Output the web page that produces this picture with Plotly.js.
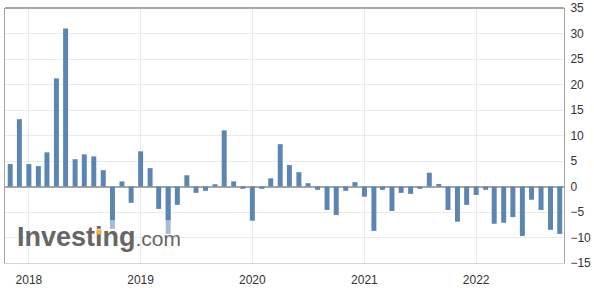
<!DOCTYPE html>
<html>
<head>
<meta charset="utf-8">
<script src="https://cdn.plot.ly/plotly-3.0.1.min.js"></script>
<style>
html,body{margin:0;padding:0;background:#fff;}
#chart{width:594px;height:298px;}
</style>
</head>
<body>
<div id="chart"></div>
<script>
// Monthly dates (Nov 2017 .. Oct 2022)
const months = [
  "2017-11-01","2017-12-01",
  "2018-01-01","2018-02-01","2018-03-01","2018-04-01","2018-05-01","2018-06-01",
  "2018-07-01","2018-08-01","2018-09-01","2018-10-01","2018-11-01","2018-12-01",
  "2019-01-01","2019-02-01","2019-03-01","2019-04-01","2019-05-01","2019-06-01",
  "2019-07-01","2019-08-01","2019-09-01","2019-10-01","2019-11-01","2019-12-01",
  "2020-01-01","2020-02-01","2020-03-01","2020-04-01","2020-05-01","2020-06-01",
  "2020-07-01","2020-08-01","2020-09-01","2020-10-01","2020-11-01","2020-12-01",
  "2021-01-01","2021-02-01","2021-03-01","2021-04-01","2021-05-01","2021-06-01",
  "2021-07-01","2021-08-01","2021-09-01","2021-10-01","2021-11-01","2021-12-01",
  "2022-01-01","2022-02-01","2022-03-01","2022-04-01","2022-05-01","2022-06-01",
  "2022-07-01","2022-08-01","2022-09-01","2022-10-01"
];

// Actual values
const actual = [
  4.4, 13.2,
  4.4, 4.0, 6.7, 21.2, 31.0, 5.35,
  6.3, 5.9, 3.2, -6.6, 1.0, -3.2,
  6.9, 3.6, -4.4, -6.6, -3.6, 2.2,
  -1.25, -0.85, 0.45, 11.0, 1.0, -0.45,
  -6.7, -0.45, 1.6, 8.3, 4.2, 2.8,
  0.65, -0.65, -4.6, -5.6, -0.85, 0.85,
  -2.0, -8.7, -0.65, -4.8, -1.25, -1.45,
  -0.45, 2.7, 0.5, -4.6, -6.9, -3.6,
  -1.65, -0.65, -7.3, -7.1, -6.0, -9.7,
  -2.6, -4.6, -8.5, -9.3
];

// Previous (revised) values, shown lighter where they differ
const previous = [
  null, null,
  null, null, null, null, null, null,
  null, null, null, -8.3, null, null,
  null, null, null, -9.3, null, null,
  null, null, null, null, null, null,
  null, null, null, null, null, null,
  null, null, null, null, null, null,
  null, null, null, null, null, null,
  null, null, null, null, null, null,
  null, null, null, null, null, null,
  null, null, null, null
];

const yTicks = [-15, -10, -5, 0, 5, 10, 15, 20, 25, 30, 35];
const xTicks = ["2018-01-01","2019-01-01","2020-01-01","2021-01-01","2022-01-01"];
const xTickText = ["2018","2019","2020","2021","2022"];

const traces = [
  {
    type: "bar", x: months, y: previous,
    marker: {color: "#a9bcd5"},
    hoverinfo: "skip", showlegend: false
  },
  {
    type: "bar", x: months, y: actual,
    marker: {color: "#5d85b1"},
    showlegend: false
  }
];

const layout = {
  width: 594, height: 298,
  margin: {l: 5, r: 30, t: 8, b: 35},
  paper_bgcolor: "#ffffff",
  plot_bgcolor: "#ffffff",
  barmode: "overlay",
  bargap: 0.42,
  font: {family: "Arial, 'Liberation Sans', sans-serif", size: 12, color: "#333333"},
  xaxis: {
    type: "date",
    range: ["2017-10-15", "2022-10-15"],
    tickvals: xTicks,
    ticktext: xTickText,
    showgrid: true, gridcolor: "#ebebeb", gridwidth: 1,
    showline: true, linecolor: "#ccd6eb", linewidth: 1,
    ticks: "", zeroline: false, ticklabelstandoff: 6,
    tickfont: {size: 12, color: "#333333"},
    fixedrange: true
  },
  yaxis: {
    side: "right",
    range: [-15, 35],
    tickvals: yTicks,
    showgrid: true, gridcolor: "#ebebeb", gridwidth: 1,
    showline: true, linecolor: "#a6a6a6", linewidth: 1, mirror: true,
    zeroline: true, zerolinecolor: "#a6a6a6", zerolinewidth: 2,
    ticks: "", ticklabelstandoff: 3,
    tickfont: {size: 12, color: "#333333"},
    fixedrange: true
  },
  shapes: [
    {type: "line", xref: "paper", yref: "paper", x0: 0, x1: 1, y0: 1, y1: 1,
     line: {color: "#a6a6a6", width: 2}}
  ],
  annotations: [
    {
      xref: "paper", yref: "paper", x: 0.017, y: 0.035,
      xanchor: "left", yanchor: "bottom", showarrow: false,
      text: "<b>Investing</b><span style='font-size:21px'>.com</span>",
      font: {family: "Arial, 'Liberation Sans', sans-serif", size: 27, color: "#666666"}
    },
    {
      // orange dot of the logo's "i"
      xref: "paper", yref: "paper", x: 0.1685, y: 0.1225,
      xanchor: "center", yanchor: "middle", showarrow: false,
      text: " ", font: {size: 1}, width: 4, height: 4, borderpad: 0,
      bgcolor: "#f2b33d"
    }
  ]
};

Plotly.newPlot("chart", traces, layout, {staticPlot: true, displayModeBar: false});
</script>
</body>
</html>
